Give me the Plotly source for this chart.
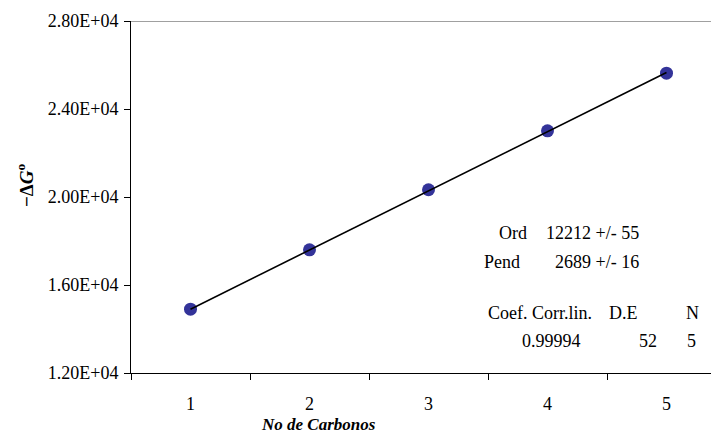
import plotly.graph_objects as go

carbons = [1, 2, 3, 4, 5]
neg_dG = [14900, 17600, 20330, 23010, 25630]
fit_x = [1, 5]
fit_y = [14901, 25657]
y_ticks = [12000, 16000, 20000, 24000, 28000]
y_tick_text = ["1.20E+04", "1.60E+04", "2.00E+04", "2.40E+04", "2.80E+04"]
x_tick_text = ["1", "2", "3", "4", "5"]

OFF = 8  # page body margin
W, H = 719 - OFF, 437 - OFF
L, R, T, B = 131 - OFF, 0, 21 - OFF, 64
pw, ph = W - L - R, H - T - B

def px(x):
    return (x - OFF - L) / pw

def py(y):
    return (H - B - (y - OFF)) / ph

FONT = "'Times New Roman', 'Liberation Serif', Tinos, serif"
FS = 18

fig = go.Figure()
fig.add_trace(go.Scatter(x=carbons, y=neg_dG, mode="markers",
                         marker=dict(size=13, color="#333399"), showlegend=False))
fig.add_trace(go.Scatter(x=fit_x, y=fit_y, mode="lines",
                         line=dict(color="black", width=1.6), showlegend=False))

fig.update_layout(
    width=W, height=H,
    margin=dict(l=L, r=R, t=T, b=B, pad=0),
    plot_bgcolor="white", paper_bgcolor="white",
    font=dict(family=FONT, size=FS, color="black"),
    xaxis=dict(range=[0.5, 0.5 + pw / 119.0], tickmode="array", tickvals=carbons,
               ticktext=x_tick_text, ticks="", showgrid=False, zeroline=False,
               showline=True, linecolor="black", linewidth=1,
               ticklabelstandoff=14,
               minor=dict(ticks="outside", tick0=0.5, dtick=1, ticklen=6,
                          tickcolor="black", showgrid=False),
               tickfont=dict(family=FONT, size=FS, color="black")),
    yaxis=dict(range=[12000, 28000], tickmode="array", tickvals=y_ticks,
               ticktext=y_tick_text, ticks="outside", ticklen=6, tickcolor="black",
               showgrid=False, zeroline=False, showline=True, linecolor="black",
               linewidth=1, ticklabelstandoff=2,
               tickfont=dict(family=FONT, size=FS, color="black")),
)

fig.add_shape(type="line", xref="paper", yref="y", x0=0, x1=1, y0=28000, y1=28000,
              line=dict(color="#808080", width=1.5))

def txt(s, x, y, anchor="left", size=FS):
    fig.add_annotation(text=s, xref="paper", yref="paper", x=px(x), y=py(y),
                       xanchor=anchor, yanchor="middle", showarrow=False,
                       font=dict(family=FONT, size=size, color="black"))

txt("Ord", 497, 233)
txt("12212 +/- 55", 544, 233)
txt("Pend", 482, 262)
txt("2689 +/- 16", 553, 262)
txt("Coef. Corr.lin.", 486, 313)
txt("D.E", 607, 313)
txt("N", 684, 313)
txt("0.99994", 520, 341)
txt("52", 659, 341, anchor="right")
txt("5", 698, 341, anchor="right")

txt("<b><i>No de Carbonos</i></b>", 318, 424, anchor="center", size=17)
fig.add_annotation(text="<b>−Δ<i>G</i><sup>o</sup></b>", xref="paper", yref="paper",
                   x=px(25), y=py(186), xanchor="center", yanchor="middle",
                   textangle=-90, showarrow=False,
                   font=dict(family=FONT, size=19, color="black"))

fig.write_html("out.html")
